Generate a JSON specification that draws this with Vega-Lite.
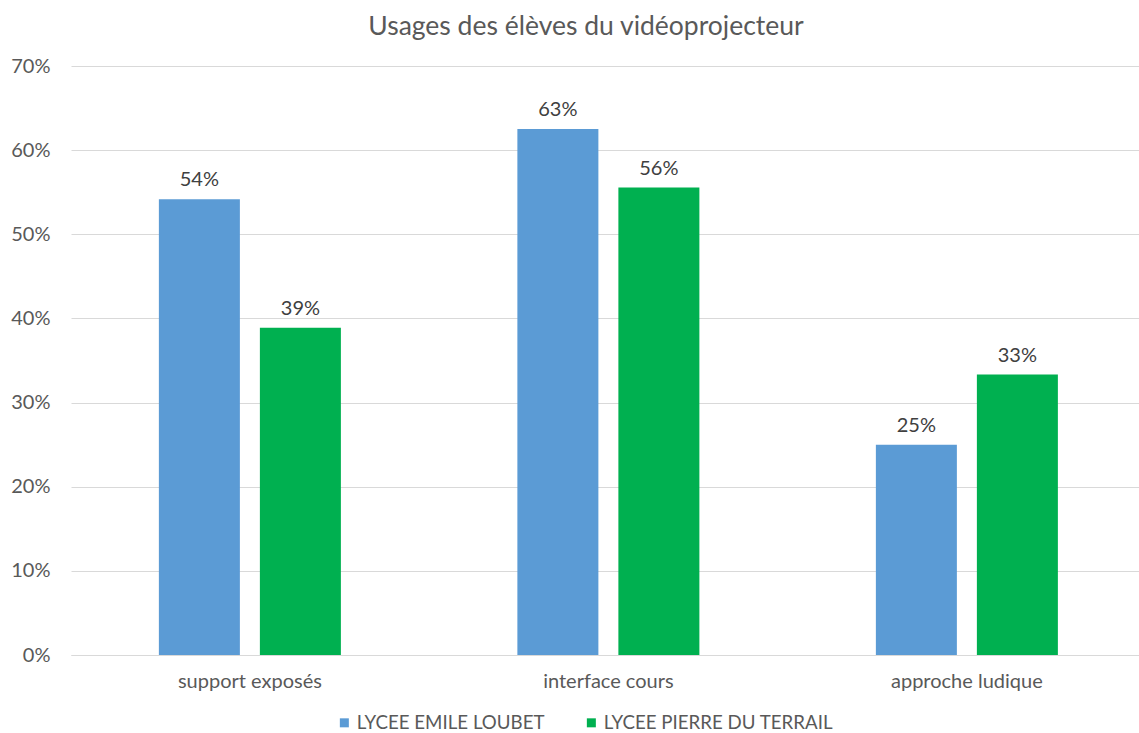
{
  "$schema": "https://vega.github.io/schema/vega-lite/v6.json",
  "width": 1068,
  "height": 589,
  "autosize": {"type": "none"},
  "padding": {"left": 71, "top": 66, "right": 0, "bottom": 78},
  "background": "white",
  "title": {
    "text": "Usages des élèves du vidéoprojecteur",
    "font": "Lato",
    "fontSize": 26.5,
    "fontWeight": "normal",
    "color": "#595959",
    "anchor": "middle",
    "frame": "group",
    "dx": -19,
    "offset": 16
  },
  "data": {
    "values": [
      {"usage": "support exposés", "lycee": "LYCEE EMILE LOUBET", "part": 0.5417},
      {"usage": "support exposés", "lycee": "LYCEE PIERRE DU TERRAIL", "part": 0.3889},
      {"usage": "interface cours", "lycee": "LYCEE EMILE LOUBET", "part": 0.625},
      {"usage": "interface cours", "lycee": "LYCEE PIERRE DU TERRAIL", "part": 0.5556},
      {"usage": "approche ludique", "lycee": "LYCEE EMILE LOUBET", "part": 0.25},
      {"usage": "approche ludique", "lycee": "LYCEE PIERRE DU TERRAIL", "part": 0.3333}
    ]
  },
  "encoding": {
    "x": {
      "field": "usage",
      "type": "nominal",
      "sort": null,
      "scale": {"paddingInner": 0.4923, "paddingOuter": 0.2357, "align": 0.52},
      "axis": {
        "title": null,
        "labelAngle": 0,
        "ticks": false,
        "domainColor": "#d9d9d9",
        "domainWidth": 1,
        "labelFont": "Lato",
        "labelFontSize": 20,
        "labelColor": "#595959",
        "labelPadding": 16
      }
    },
    "xOffset": {
      "field": "lycee",
      "type": "nominal",
      "scale": {"paddingInner": 0.198, "paddingOuter": 0}
    },
    "y": {
      "field": "part",
      "type": "quantitative",
      "scale": {"domain": [0, 0.7]},
      "axis": {
        "title": null,
        "values": [0, 0.1, 0.2, 0.3, 0.4, 0.5, 0.6, 0.7],
        "format": ".0%",
        "domain": false,
        "ticks": false,
        "gridColor": "#d9d9d9",
        "gridWidth": 1,
        "labelFont": "Lato",
        "labelFontSize": 20,
        "labelColor": "#595959",
        "labelPadding": 21
      }
    }
  },
  "layer": [
    {
      "mark": {"type": "bar"},
      "encoding": {
        "color": {
          "field": "lycee",
          "type": "nominal",
          "scale": {
            "domain": ["LYCEE EMILE LOUBET", "LYCEE PIERRE DU TERRAIL"],
            "range": ["#5b9bd5", "#00b050"]
          },
          "legend": {
            "title": null,
            "orient": "none",
            "direction": "horizontal",
            "legendX": 264,
            "legendY": 647,
            "symbolType": "square",
            "symbolSize": 81,
            "symbolStrokeWidth": 0,
            "labelFont": "Lato",
            "labelFontSize": 18.7,
            "labelLimit": 400,
            "labelColor": "#595959",
            "labelOffset": 3,
            "columnPadding": 37
          }
        }
      }
    },
    {
      "mark": {
        "type": "text",
        "baseline": "alphabetic",
        "dy": -13,
        "font": "Lato",
        "fontSize": 20,
        "color": "#404040"
      },
      "encoding": {
        "text": {"field": "part", "type": "quantitative", "format": ".0%"}
      }
    }
  ],
  "config": {
    "view": {"stroke": null}
  }
}
